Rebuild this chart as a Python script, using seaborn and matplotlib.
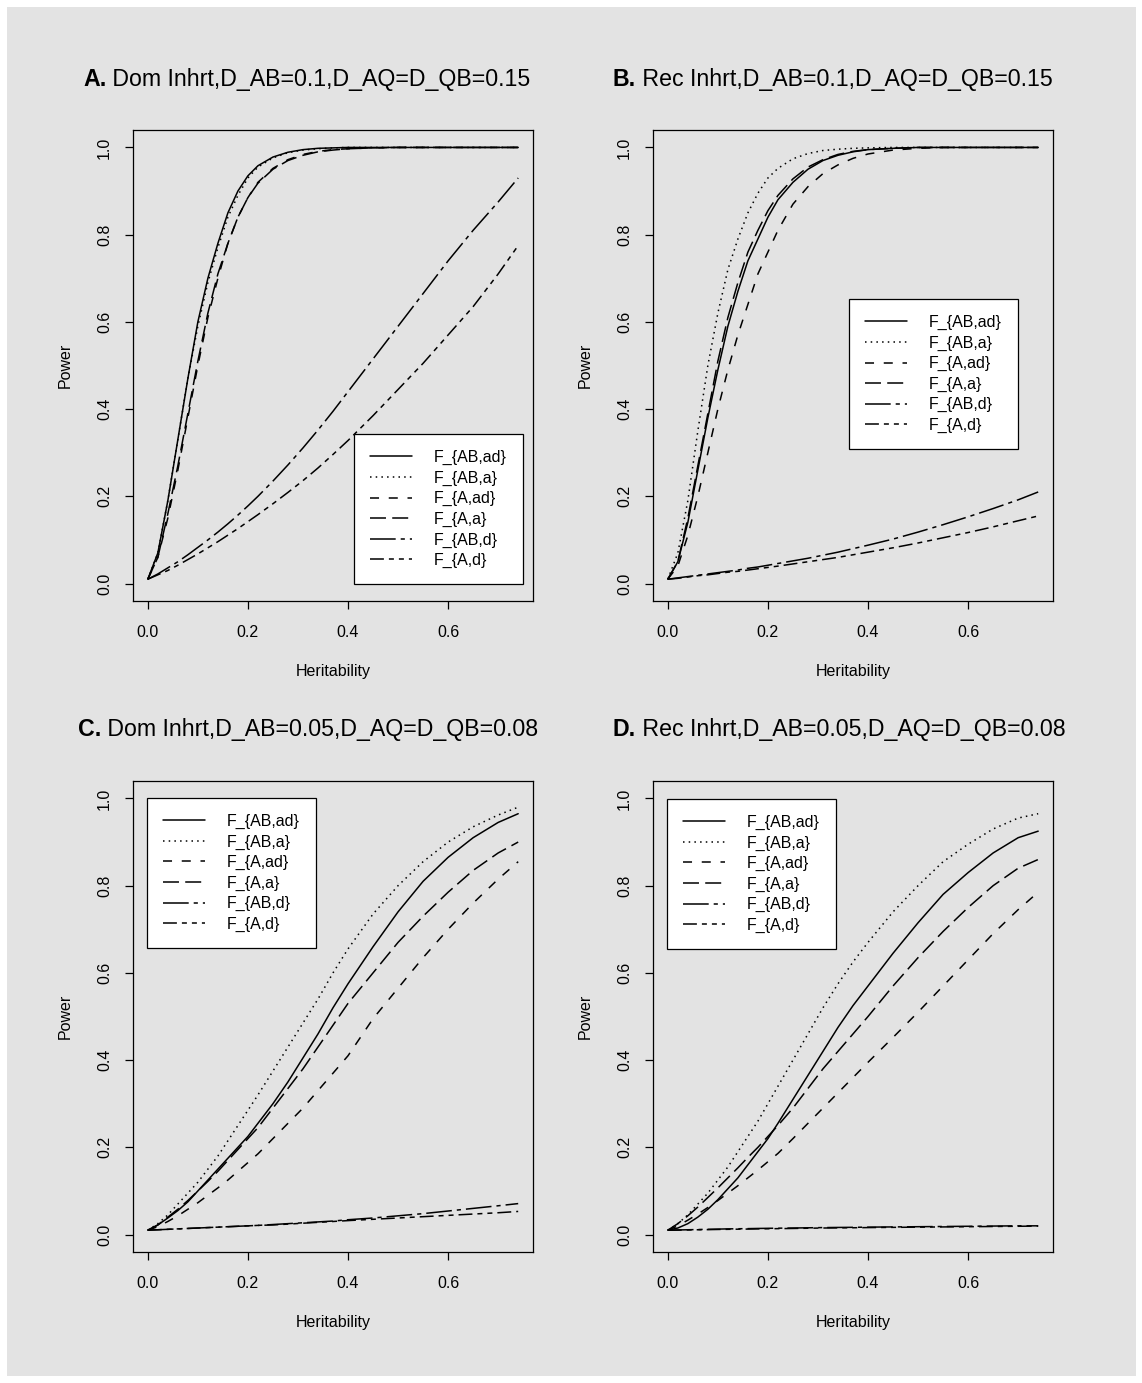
import matplotlib
matplotlib.use("Agg")
import matplotlib.pyplot as plt
import seaborn as sns
import pandas as pd
from matplotlib.patches import Rectangle

# heritability grid shared by all curves
herit = [0, 0.02, 0.04, 0.06, 0.08, 0.10, 0.12, 0.14, 0.16, 0.18, 0.20, 0.22, 0.25,
         0.28, 0.31, 0.34, 0.37, 0.40, 0.45, 0.50, 0.55, 0.60, 0.65, 0.70, 0.74]

series_names = ["F_{AB,ad}", "F_{AB,a}", "F_{A,ad}", "F_{A,a}", "F_{AB,d}", "F_{A,d}"]

# panel A: dominant, D_AB=0.1
a_ab_ad = [0.01, 0.07, 0.19, 0.33, 0.47, 0.60, 0.70, 0.78, 0.85, 0.90, 0.935, 0.958, 0.978, 0.989, 0.995, 0.998, 0.999, 1, 1, 1, 1, 1, 1, 1, 1]
a_ab_a = [0.01, 0.07, 0.19, 0.33, 0.47, 0.59, 0.69, 0.77, 0.84, 0.89, 0.93, 0.955, 0.976, 0.988, 0.994, 0.997, 0.999, 1, 1, 1, 1, 1, 1, 1, 1]
a_a_ad = [0.01, 0.06, 0.15, 0.26, 0.38, 0.50, 0.61, 0.70, 0.78, 0.84, 0.885, 0.92, 0.952, 0.972, 0.984, 0.991, 0.995, 0.997, 0.999, 1, 1, 1, 1, 1, 1]
a_a_a = [0.01, 0.06, 0.16, 0.27, 0.39, 0.51, 0.62, 0.71, 0.78, 0.84, 0.885, 0.918, 0.95, 0.97, 0.982, 0.99, 0.994, 0.997, 0.999, 1, 1, 1, 1, 1, 1]
a_ab_d = [0.01, 0.022, 0.036, 0.05, 0.066, 0.083, 0.10, 0.118, 0.137, 0.157, 0.178, 0.20, 0.235, 0.272, 0.311, 0.352, 0.395, 0.44, 0.515, 0.59, 0.665, 0.74, 0.81, 0.875, 0.93]
a_a_d = [0.01, 0.02, 0.03, 0.042, 0.055, 0.068, 0.082, 0.096, 0.111, 0.126, 0.142, 0.158, 0.183, 0.209, 0.236, 0.265, 0.296, 0.328, 0.385, 0.445, 0.505, 0.57, 0.635, 0.71, 0.775]

# panel B: recessive, D_AB=0.1
b_ab_ad = [0.01, 0.05, 0.14, 0.26, 0.38, 0.49, 0.59, 0.67, 0.74, 0.79, 0.84, 0.88, 0.92, 0.95, 0.97, 0.982, 0.99, 0.995, 0.998, 1, 1, 1, 1, 1, 1]
b_ab_a = [0.01, 0.07, 0.19, 0.35, 0.50, 0.62, 0.72, 0.79, 0.85, 0.895, 0.93, 0.952, 0.974, 0.986, 0.993, 0.996, 0.998, 0.999, 1, 1, 1, 1, 1, 1, 1]
b_a_ad = [0.01, 0.04, 0.11, 0.20, 0.30, 0.40, 0.49, 0.57, 0.64, 0.71, 0.76, 0.81, 0.87, 0.91, 0.94, 0.96, 0.975, 0.985, 0.994, 0.998, 1, 1, 1, 1, 1]
b_a_a = [0.01, 0.05, 0.15, 0.27, 0.39, 0.51, 0.61, 0.69, 0.76, 0.81, 0.855, 0.89, 0.928, 0.955, 0.972, 0.984, 0.991, 0.995, 0.998, 1, 1, 1, 1, 1, 1]
b_ab_d = [0.01, 0.013, 0.016, 0.019, 0.022, 0.025, 0.028, 0.031, 0.035, 0.038, 0.042, 0.046, 0.052, 0.058, 0.065, 0.072, 0.080, 0.088, 0.102, 0.118, 0.135, 0.153, 0.172, 0.192, 0.21]
b_a_d = [0.01, 0.012, 0.015, 0.018, 0.02, 0.023, 0.026, 0.028, 0.031, 0.034, 0.037, 0.04, 0.045, 0.05, 0.055, 0.06, 0.066, 0.072, 0.082, 0.093, 0.105, 0.117, 0.13, 0.144, 0.155]

# panel C: dominant, D_AB=0.05
c_ab_ad = [0.01, 0.022, 0.038, 0.055, 0.075, 0.10, 0.125, 0.15, 0.175, 0.20, 0.225, 0.255, 0.30, 0.35, 0.405, 0.46, 0.52, 0.575, 0.66, 0.74, 0.81, 0.865, 0.91, 0.945, 0.965]
c_ab_a = [0.01, 0.025, 0.045, 0.07, 0.095, 0.12, 0.15, 0.18, 0.215, 0.25, 0.285, 0.32, 0.375, 0.43, 0.485, 0.54, 0.60, 0.655, 0.735, 0.80, 0.855, 0.90, 0.935, 0.962, 0.98]
c_a_ad = [0.01, 0.018, 0.03, 0.043, 0.058, 0.073, 0.09, 0.107, 0.125, 0.145, 0.165, 0.185, 0.22, 0.255, 0.29, 0.33, 0.37, 0.41, 0.495, 0.565, 0.635, 0.70, 0.76, 0.815, 0.855]
c_a_a = [0.01, 0.022, 0.04, 0.058, 0.078, 0.10, 0.122, 0.145, 0.17, 0.195, 0.22, 0.245, 0.29, 0.335, 0.38, 0.43, 0.48, 0.53, 0.60, 0.67, 0.73, 0.785, 0.835, 0.875, 0.90]
c_ab_d = [0.01, 0.011, 0.012, 0.013, 0.014, 0.015, 0.016, 0.017, 0.018, 0.019, 0.02, 0.021, 0.023, 0.025, 0.027, 0.029, 0.031, 0.034, 0.038, 0.043, 0.048, 0.054, 0.06, 0.066, 0.071]
c_a_d = [0.01, 0.011, 0.012, 0.013, 0.014, 0.015, 0.016, 0.017, 0.018, 0.019, 0.02, 0.021, 0.022, 0.024, 0.026, 0.028, 0.03, 0.032, 0.035, 0.038, 0.041, 0.044, 0.047, 0.05, 0.053]

# panel D: recessive, D_AB=0.05
d_ab_ad = [0.01, 0.015, 0.025, 0.04, 0.058, 0.08, 0.105, 0.13, 0.16, 0.19, 0.22, 0.255, 0.31, 0.365, 0.42, 0.475, 0.525, 0.57, 0.645, 0.715, 0.78, 0.83, 0.875, 0.91, 0.925]
d_ab_a = [0.01, 0.025, 0.045, 0.07, 0.095, 0.125, 0.155, 0.19, 0.225, 0.26, 0.30, 0.34, 0.40, 0.46, 0.52, 0.575, 0.625, 0.67, 0.74, 0.80, 0.855, 0.895, 0.93, 0.955, 0.965]
d_a_ad = [0.01, 0.02, 0.033, 0.047, 0.062, 0.078, 0.095, 0.112, 0.13, 0.148, 0.167, 0.186, 0.22, 0.255, 0.29, 0.325, 0.36, 0.395, 0.452, 0.51, 0.57, 0.63, 0.69, 0.745, 0.785]
d_a_a = [0.01, 0.025, 0.043, 0.063, 0.085, 0.107, 0.13, 0.153, 0.177, 0.20, 0.225, 0.25, 0.29, 0.335, 0.38, 0.42, 0.46, 0.50, 0.57, 0.635, 0.695, 0.75, 0.80, 0.84, 0.86]
d_ab_d = [0.01, 0.0105, 0.011, 0.0115, 0.012, 0.0125, 0.013, 0.0133, 0.0136, 0.014, 0.0143, 0.0146, 0.015, 0.0155, 0.016, 0.0163, 0.0166, 0.017, 0.0175, 0.018, 0.0185, 0.019, 0.0195, 0.02, 0.02]
d_a_d = [0.01, 0.0102, 0.0105, 0.011, 0.0113, 0.0117, 0.012, 0.0123, 0.0126, 0.013, 0.0133, 0.0136, 0.014, 0.0145, 0.015, 0.0153, 0.0156, 0.016, 0.0165, 0.017, 0.0175, 0.018, 0.0185, 0.019, 0.0195]

panels = [
    ("A.", " Dom Inhrt,D_AB=0.1,D_AQ=D_QB=0.15", [a_ab_ad, a_ab_a, a_a_ad, a_a_a, a_ab_d, a_a_d]),
    ("B.", " Rec Inhrt,D_AB=0.1,D_AQ=D_QB=0.15", [b_ab_ad, b_ab_a, b_a_ad, b_a_a, b_ab_d, b_a_d]),
    ("C.", " Dom Inhrt,D_AB=0.05,D_AQ=D_QB=0.08", [c_ab_ad, c_ab_a, c_a_ad, c_a_a, c_ab_d, c_a_d]),
    ("D.", " Rec Inhrt,D_AB=0.05,D_AQ=D_QB=0.08", [d_ab_ad, d_ab_a, d_a_ad, d_a_a, d_ab_d, d_a_d]),
]

# line styles (points), mimicking R lty
styles = ["-", (0, (1.1, 3.0)), (0, (6.5, 7.0)), (0, (11.5, 4.5)),
          (0, (18.5, 3.6, 3.0, 3.6)), (0, (10.0, 3.6, 3.6, 3.6, 3.6, 3.6))]

W, H = 1142, 1383
GRAY = "#e3e3e3"

sns.set_style("ticks")
plt.rcParams["font.family"] = ["Liberation Sans", "DejaVu Sans"]
plt.rcParams["lines.scale_dashes"] = False
for key in ["text.color", "axes.labelcolor", "xtick.color", "ytick.color", "axes.edgecolor"]:
    plt.rcParams[key] = "black"

fig = plt.figure(figsize=(W / 100, H / 100), dpi=100, facecolor="white")
fig.patches.append(Rectangle((7 / W, 7 / H), 1129 / W, 1369 / H, transform=fig.transFigure,
                             facecolor=GRAY, edgecolor="none", zorder=-5))

# pixel boxes: left, top, width, height
boxes = [(133, 130, 400, 471), (653, 130, 400, 471), (133, 781, 400, 471), (653, 781, 400, 471)]
title_pos = [(83, 86), (613, 86), (78, 736), (613, 736)]
legend_spec = [("lower right", (0.975, 0.036)), ("upper right", (0.9125, 0.641)),
               ("upper left", (0.035, 0.964)), ("upper left", (0.035, 0.962))]

renderer = fig.canvas.get_renderer()

for i, (bold, rest, curves) in enumerate(panels):
    l, t, w, h = boxes[i]
    ax = fig.add_axes([l / W, 1 - (t + h) / H, w / W, h / H])
    ax.set_facecolor(GRAY)
    for name, vals, ls in zip(series_names, curves, styles):
        df = pd.DataFrame({"Heritability": herit, "Power": vals})
        sns.lineplot(data=df, x="Heritability", y="Power", ax=ax, color="black",
                     lw=1.1, linestyle=ls, label=name, estimator=None, sort=False)
    ax.set_xlim(-0.0296, 0.7696)
    ax.set_ylim(-0.04, 1.04)
    ax.set_xticks([0, 0.2, 0.4, 0.6])
    ax.set_xticklabels(["0.0", "0.2", "0.4", "0.6"])
    ax.set_yticks([0, 0.2, 0.4, 0.6, 0.8, 1.0])
    ax.set_yticklabels(["0.0", "0.2", "0.4", "0.6", "0.8", "1.0"], rotation=90, va="center")
    ax.tick_params(axis="both", length=6, width=0.9, labelsize=11.5, color="black")
    ax.tick_params(axis="x", pad=11)
    ax.tick_params(axis="y", pad=9)
    for sp in ax.spines.values():
        sp.set_visible(True)
        sp.set_linewidth(0.9)
        sp.set_color("black")
    ax.set_xlabel("Heritability", fontsize=11.5)
    ax.set_ylabel("Power", fontsize=11.5)
    ax.xaxis.set_label_coords(0.5, -0.133)
    ax.yaxis.set_label_coords(-0.15, 0.5)

    loc, anchor = legend_spec[i]
    leg = ax.legend(loc=loc, bbox_to_anchor=anchor, borderaxespad=0, fontsize=11.5,
                    frameon=True, fancybox=False, framealpha=1, edgecolor="black",
                    handlelength=2.6, handletextpad=1.4, labelspacing=0.34,
                    borderpad=1.0, facecolor="white")
    leg.get_frame().set_linewidth(0.9)
    for ln in leg.get_lines():
        ln.set_linewidth(1.1)

    tx, ty = title_pos[i]
    tb = fig.text(tx / W, 1 - ty / H, bold, fontsize=16.7, fontweight="bold", va="baseline", ha="left")
    bw = tb.get_window_extent(renderer).width
    fig.text((tx + bw) / W, 1 - ty / H, rest, fontsize=16.7, va="baseline", ha="left")

fig.savefig("out.png", dpi=100, facecolor="white")
